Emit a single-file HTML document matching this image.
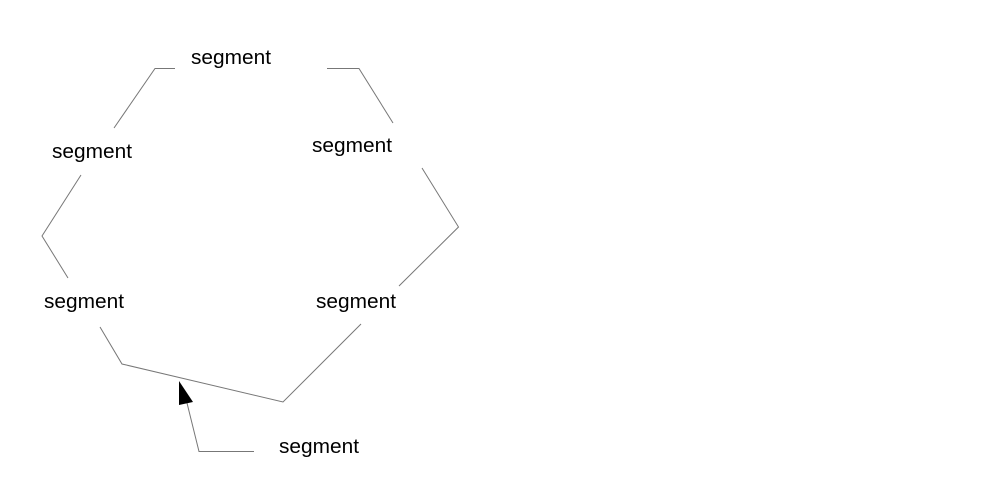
<!DOCTYPE html>
<html>
<head>
<meta charset="utf-8">
<style>
html,body{margin:0;padding:0;background:#fff;width:1008px;height:484px;overflow:hidden}
svg{display:block}
text{font-family:"Liberation Sans",Arial,sans-serif;font-size:20.6px;fill:#000}
polyline{fill:none;stroke:#777;stroke-width:1}
</style>
</head>
<body>
<svg width="1008" height="484" viewBox="0 0 1008 484" xmlns="http://www.w3.org/2000/svg">
<polyline points="175,68.5 155,68.5 114,128"/>
<polyline points="327,68.5 359,68.5 393,123"/>
<polyline points="422,168 458.5,227 399,286"/>
<polyline points="361,324 283,402 122,364 100,327"/>
<polyline points="68,278 42,236 81,175"/>
<polyline points="254,451.5 199,451.5 187,403"/>
<polygon points="179,405 193,402 179,381" fill="#000"/>
<text x="191" y="64" textLength="80" lengthAdjust="spacingAndGlyphs">segment</text>
<text x="52" y="158" textLength="80" lengthAdjust="spacingAndGlyphs">segment</text>
<text x="312" y="152" textLength="80" lengthAdjust="spacingAndGlyphs">segment</text>
<text x="44" y="308" textLength="80" lengthAdjust="spacingAndGlyphs">segment</text>
<text x="316" y="308" textLength="80" lengthAdjust="spacingAndGlyphs">segment</text>
<text x="279" y="453" textLength="80" lengthAdjust="spacingAndGlyphs">segment</text>
</svg>
</body>
</html>
